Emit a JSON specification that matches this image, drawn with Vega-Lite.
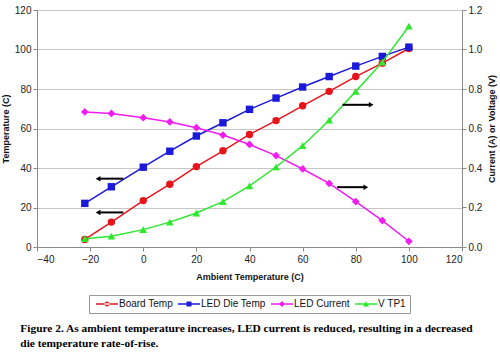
{
  "$schema": "https://vega.github.io/schema/vega-lite/v6.json",
  "autosize": {"type": "fit", "contains": "padding"},
  "width": 500,
  "height": 355,
  "padding": {"left": 1, "top": 5, "right": 3, "bottom": 6},
  "background": "white",
  "config": {
    "view": {"stroke": null},
    "font": "Liberation Sans",
    "axis": {
      "labelFont": "Liberation Sans",
      "labelFontSize": 10,
      "labelColor": "#222222",
      "titleFont": "Liberation Sans",
      "titleFontSize": 9,
      "titleFontWeight": "bold",
      "titleColor": "#111111",
      "domainColor": "#8a8a8a",
      "tickColor": "#8a8a8a",
      "tickSize": 4,
      "gridColor": "#c6c6c6"
    },
    "legend": {
      "labelFont": "Liberation Sans",
      "labelFontSize": 10,
      "labelColor": "#111111",
      "layout": {"bottom": {"anchor": "middle"}}
    }
  },
  "datasets": {
    "series": [
      {"series": "Board Temp", "ambient": -22, "value": 3.8},
      {"series": "Board Temp", "ambient": -12, "value": 12.6},
      {"series": "Board Temp", "ambient": 0, "value": 23.5},
      {"series": "Board Temp", "ambient": 10, "value": 31.8},
      {"series": "Board Temp", "ambient": 20, "value": 40.7},
      {"series": "Board Temp", "ambient": 30, "value": 48.7},
      {"series": "Board Temp", "ambient": 40, "value": 57},
      {"series": "Board Temp", "ambient": 50, "value": 64},
      {"series": "Board Temp", "ambient": 60, "value": 71.5},
      {"series": "Board Temp", "ambient": 70, "value": 78.8},
      {"series": "Board Temp", "ambient": 80, "value": 86.3},
      {"series": "Board Temp", "ambient": 90, "value": 93.1},
      {"series": "Board Temp", "ambient": 100, "value": 100.5},
      {"series": "LED Die Temp", "ambient": -22, "value": 22.1},
      {"series": "LED Die Temp", "ambient": -12, "value": 30.5},
      {"series": "LED Die Temp", "ambient": 0, "value": 40.4},
      {"series": "LED Die Temp", "ambient": 10, "value": 48.5},
      {"series": "LED Die Temp", "ambient": 20, "value": 56.2},
      {"series": "LED Die Temp", "ambient": 30, "value": 62.9},
      {"series": "LED Die Temp", "ambient": 40, "value": 69.7},
      {"series": "LED Die Temp", "ambient": 50, "value": 75.4},
      {"series": "LED Die Temp", "ambient": 60, "value": 81},
      {"series": "LED Die Temp", "ambient": 70, "value": 86.3},
      {"series": "LED Die Temp", "ambient": 80, "value": 91.6},
      {"series": "LED Die Temp", "ambient": 90, "value": 96.5},
      {"series": "LED Die Temp", "ambient": 100, "value": 101.2},
      {"series": "LED Current", "ambient": -22, "value": 0.684},
      {"series": "LED Current", "ambient": -12, "value": 0.676},
      {"series": "LED Current", "ambient": 0, "value": 0.655},
      {"series": "LED Current", "ambient": 10, "value": 0.633},
      {"series": "LED Current", "ambient": 20, "value": 0.604},
      {"series": "LED Current", "ambient": 30, "value": 0.567},
      {"series": "LED Current", "ambient": 40, "value": 0.519},
      {"series": "LED Current", "ambient": 50, "value": 0.463},
      {"series": "LED Current", "ambient": 60, "value": 0.395},
      {"series": "LED Current", "ambient": 70, "value": 0.322},
      {"series": "LED Current", "ambient": 80, "value": 0.23},
      {"series": "LED Current", "ambient": 90, "value": 0.134},
      {"series": "LED Current", "ambient": 100, "value": 0.029},
      {"series": "V TP1", "ambient": -22, "value": 0.042},
      {"series": "V TP1", "ambient": -12, "value": 0.055},
      {"series": "V TP1", "ambient": 0, "value": 0.088},
      {"series": "V TP1", "ambient": 10, "value": 0.126},
      {"series": "V TP1", "ambient": 20, "value": 0.172},
      {"series": "V TP1", "ambient": 30, "value": 0.23},
      {"series": "V TP1", "ambient": 40, "value": 0.31},
      {"series": "V TP1", "ambient": 50, "value": 0.405},
      {"series": "V TP1", "ambient": 60, "value": 0.513},
      {"series": "V TP1", "ambient": 70, "value": 0.642},
      {"series": "V TP1", "ambient": 80, "value": 0.788},
      {"series": "V TP1", "ambient": 90, "value": 0.936},
      {"series": "V TP1", "ambient": 100, "value": 1.118}
    ],
    "arrows": [
      {"side": "left", "tail": -7.5, "head": -17, "level": 34.6},
      {"side": "left", "tail": -7.5, "head": -17, "level": 17.5},
      {"side": "right", "tail": 75, "head": 85.8, "level": 0.72},
      {"side": "right", "tail": 73, "head": 83.8, "level": 0.303}
    ]
  },
  "title": {
    "text": ["Figure 2. As ambient temperature increases, LED current is reduced, resulting in a decreased", "die temperature rate-of-rise."],
    "orient": "bottom",
    "anchor": "start",
    "frame": "bounds",
    "font": "Liberation Serif",
    "fontSize": 11.4,
    "fontWeight": "bold",
    "color": "#000000",
    "lineHeight": 15,
    "offset": 9,
    "dx": 19
  },
  "resolve": {"scale": {"y": "independent"}},
  "layer": [
    {
      "layer": [
        {
          "data": {"name": "series"},
          "transform": [{"filter": "datum.series === 'Board Temp' || datum.series === 'LED Die Temp'"}],
          "mark": {"type": "line", "strokeWidth": 1.5},
          "encoding": {
            "x": {"field": "ambient", "type": "quantitative", "scale": {"domain": [-40, 120]},
                  "axis": {"values": [-40, -20, 0, 20, 40, 60, 80, 100, 120], "title": "Ambient Temperature (C)", "grid": false, "labelPadding": 3, "titlePadding": 8}},
            "y": {"field": "value", "type": "quantitative", "scale": {"domain": [0, 120]},
                  "axis": {"values": [0, 10, 20, 30, 40, 50, 60, 70, 80, 90, 100, 110, 120], "tickCount": 12, "title": "Temperature (C)", "grid": true, "titlePadding": 4}},
            "color": {"field": "series", "type": "nominal",
                      "scale": {"domain": ["Board Temp", "LED Die Temp", "LED Current", "V TP1"], "range": ["#e8141c", "#1a1ad8", "#f01cf0", "#2ee82e"]},
                      "legend": {
                        "title": null, "orient": "bottom", "direction": "horizontal", "offset": 14,
                        "padding": 4, "symbolSize": 16, "labelOffset": 16, "columnPadding": 2,
                        "encode": {
                          "legend": {"update": {"stroke": {"value": "#999999"}, "strokeWidth": {"value": 1}}},
                          "symbols": {"update": {
                            "shape": {"signal": "datum.value === 'Board Temp' ? 'M-1,-0.35L10,-0.35L10,0.35L-1,0.35Z M3.25,0A1.25,1.25 0 1,0 5.75,0A1.25,1.25 0 1,0 3.25,0Z' : datum.value === 'LED Die Temp' ? 'M-1,-0.35L10,-0.35L10,0.35L-1,0.35Z M3.25,-1.25L5.75,-1.25L5.75,1.25L3.25,1.25Z' : datum.value === 'LED Current' ? 'M-1,-0.35L10,-0.35L10,0.35L-1,0.35Z M4.5,-1.5L6,0L4.5,1.5L3,0Z' : 'M-1,-0.35L10,-0.35L10,0.35L-1,0.35Z M4.5,-1.4L6,1.2L3,1.2Z'"},
                            "fill": {"signal": "scale('color', datum.value)"},
                            "fillOpacity": {"value": 1},
                            "strokeWidth": {"value": 0}
                          }}
                        }
                      }}
          }
        },
        {
          "data": {"name": "series"},
          "transform": [{"filter": "datum.series === 'Board Temp'"}],
          "mark": {"type": "point", "shape": "circle", "filled": true, "opacity": 1, "size": 55},
          "encoding": {
            "x": {"field": "ambient", "type": "quantitative"},
            "y": {"field": "value", "type": "quantitative",
                  "axis": {"values": [0, 10, 20, 30, 40, 50, 60, 70, 80, 90, 100, 110, 120], "tickCount": 12, "title": "Temperature (C)", "grid": true, "titlePadding": 4}},
            "color": {"field": "series", "type": "nominal"}
          }
        },
        {
          "data": {"name": "series"},
          "transform": [{"filter": "datum.series === 'LED Die Temp'"}],
          "mark": {"type": "point", "shape": "square", "filled": true, "opacity": 1, "size": 55},
          "encoding": {
            "x": {"field": "ambient", "type": "quantitative"},
            "y": {"field": "value", "type": "quantitative",
                  "axis": {"values": [0, 10, 20, 30, 40, 50, 60, 70, 80, 90, 100, 110, 120], "tickCount": 12, "title": "Temperature (C)", "grid": true, "titlePadding": 4}},
            "color": {"field": "series", "type": "nominal"}
          }
        },
        {
          "data": {"name": "arrows"},
          "transform": [{"filter": "datum.side === 'left'"}],
          "mark": {"type": "rule", "color": "black", "strokeWidth": 2},
          "encoding": {
            "x": {"field": "tail", "type": "quantitative"},
            "x2": {"field": "head"},
            "y": {"field": "level", "type": "quantitative",
                  "axis": {"values": [0, 10, 20, 30, 40, 50, 60, 70, 80, 90, 100, 110, 120], "tickCount": 12, "title": "Temperature (C)", "grid": true, "titlePadding": 4}}
          }
        },
        {
          "data": {"name": "arrows"},
          "transform": [{"filter": "datum.side === 'left'"}],
          "mark": {"type": "point", "shape": "triangle-left", "filled": true, "color": "black", "opacity": 1, "size": 30},
          "encoding": {
            "x": {"field": "head", "type": "quantitative"},
            "y": {"field": "level", "type": "quantitative",
                  "axis": {"values": [0, 10, 20, 30, 40, 50, 60, 70, 80, 90, 100, 110, 120], "tickCount": 12, "title": "Temperature (C)", "grid": true, "titlePadding": 4}}
          }
        }
      ]
    },
    {
      "layer": [
        {
          "data": {"name": "series"},
          "transform": [{"filter": "datum.series === 'LED Current' || datum.series === 'V TP1'"}],
          "mark": {"type": "line", "strokeWidth": 1.5},
          "encoding": {
            "x": {"field": "ambient", "type": "quantitative"},
            "y": {"field": "value", "type": "quantitative", "scale": {"domain": [0, 1.2]},
                  "axis": {"orient": "right", "values": [0, 0.2, 0.4, 0.6, 0.8, 1.0, 1.2], "labelOverlap": false, "format": ".1f", "title": "Current (A) or Voltage (V)", "titleAngle": 270, "titleBaseline": "top", "grid": false, "titlePadding": 6}},
            "color": {"field": "series", "type": "nominal"}
          }
        },
        {
          "data": {"name": "series"},
          "transform": [{"filter": "datum.series === 'LED Current'"}],
          "mark": {"type": "point", "shape": "diamond", "filled": true, "opacity": 1, "size": 60},
          "encoding": {
            "x": {"field": "ambient", "type": "quantitative"},
            "y": {"field": "value", "type": "quantitative",
                  "axis": {"orient": "right", "values": [0, 0.2, 0.4, 0.6, 0.8, 1.0, 1.2], "labelOverlap": false, "format": ".1f", "title": "Current (A) or Voltage (V)", "titleAngle": 270, "titleBaseline": "top", "grid": false, "titlePadding": 6}},
            "color": {"field": "series", "type": "nominal"}
          }
        },
        {
          "data": {"name": "series"},
          "transform": [{"filter": "datum.series === 'V TP1'"}],
          "mark": {"type": "point", "shape": "triangle-up", "filled": true, "opacity": 1, "size": 60},
          "encoding": {
            "x": {"field": "ambient", "type": "quantitative"},
            "y": {"field": "value", "type": "quantitative",
                  "axis": {"orient": "right", "values": [0, 0.2, 0.4, 0.6, 0.8, 1.0, 1.2], "labelOverlap": false, "format": ".1f", "title": "Current (A) or Voltage (V)", "titleAngle": 270, "titleBaseline": "top", "grid": false, "titlePadding": 6}},
            "color": {"field": "series", "type": "nominal"}
          }
        },
        {
          "data": {"name": "arrows"},
          "transform": [{"filter": "datum.side === 'right'"}],
          "mark": {"type": "rule", "color": "black", "strokeWidth": 2},
          "encoding": {
            "x": {"field": "tail", "type": "quantitative"},
            "x2": {"field": "head"},
            "y": {"field": "level", "type": "quantitative",
                  "axis": {"orient": "right", "values": [0, 0.2, 0.4, 0.6, 0.8, 1.0, 1.2], "labelOverlap": false, "format": ".1f", "title": "Current (A) or Voltage (V)", "titleAngle": 270, "titleBaseline": "top", "grid": false, "titlePadding": 6}}
          }
        },
        {
          "data": {"name": "arrows"},
          "transform": [{"filter": "datum.side === 'right'"}],
          "mark": {"type": "point", "shape": "triangle-right", "filled": true, "color": "black", "opacity": 1, "size": 30},
          "encoding": {
            "x": {"field": "head", "type": "quantitative"},
            "y": {"field": "level", "type": "quantitative",
                  "axis": {"orient": "right", "values": [0, 0.2, 0.4, 0.6, 0.8, 1.0, 1.2], "labelOverlap": false, "format": ".1f", "title": "Current (A) or Voltage (V)", "titleAngle": 270, "titleBaseline": "top", "grid": false, "titlePadding": 6}}
          }
        }
      ]
    }
  ]
}
